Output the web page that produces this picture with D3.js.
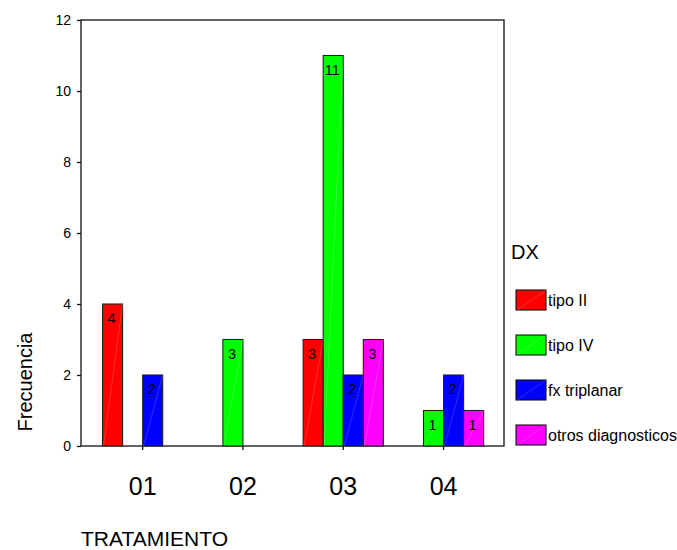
<!DOCTYPE html>
<html>
<head>
<meta charset="utf-8">
<script src="https://cdn.jsdelivr.net/npm/d3@7"></script>
<style>
  body { margin: 0; background: #fff; }
  text { font-family: "Liberation Sans", Arial, sans-serif; fill: #000; }
</style>
</head>
<body>
<script>
var categories = ["01", "02", "03", "04"];
var seriesNames = ["tipo II", "tipo IV", "fx triplanar", "otros diagnosticos"];
var tipoII = [4, 0, 3, 0];
var tipoIV = [0, 3, 11, 1];
var fxTriplanar = [2, 0, 2, 2];
var otrosDx = [0, 0, 3, 1];
var yTicks = [0, 2, 4, 6, 8, 10, 12];
var colors = ["#ff0000", "#00ff00", "#0000ff", "#ff00ff"];

var seriesValues = [tipoII, tipoIV, fxTriplanar, otrosDx];

var data = categories.map(function(c, i) {
  return { cat: c, values: seriesNames.map(function(s, j) { return { name: s, value: seriesValues[j][i] }; }) };
});

var width = 677, height = 550;
var plot = { left: 81, right: 504, top: 20, bottom: 446 };

var svg = d3.select("body").append("svg")
  .attr("width", width)
  .attr("height", height);

var x0 = d3.scaleBand().domain(categories).range([92.5, 493.7]).paddingInner(0.2).paddingOuter(0.1);
var x1 = d3.scaleBand().domain(seriesNames).range([0, x0.bandwidth()]);
var y = d3.scaleLinear().domain([0, 12]).range([plot.bottom, plot.top]);
var color = d3.scaleOrdinal().domain(seriesNames).range(colors);

// frame
svg.append("rect")
  .attr("x", plot.left).attr("y", plot.top)
  .attr("width", plot.right - plot.left).attr("height", plot.bottom - plot.top)
  .attr("fill", "none").attr("stroke", "#111").attr("stroke-width", 1.3);

// y axis
var yAxis = svg.append("g")
  .attr("transform", "translate(" + plot.left + ",0)")
  .call(d3.axisLeft(y).tickValues(yTicks).tickSize(4).tickPadding(6).tickFormat(d3.format("d")));
yAxis.select(".domain").remove();
yAxis.selectAll("line").attr("stroke", "#111").attr("stroke-width", 1.3);
yAxis.selectAll("text").style("font-size", "14px").style("font-family", "'Liberation Sans', Arial, sans-serif").attr("fill", "#000");

// x axis
var xAxis = svg.append("g")
  .attr("transform", "translate(0," + plot.bottom + ")")
  .call(d3.axisBottom(x0).tickSize(4).tickPadding(27));
xAxis.select(".domain").remove();
xAxis.selectAll("line").attr("stroke", "#111").attr("stroke-width", 1.3);
xAxis.selectAll("text").style("font-size", "25px").style("font-family", "'Liberation Sans', Arial, sans-serif").attr("fill", "#000");

// bars
var slice = svg.selectAll(".slice")
  .data(data)
  .enter().append("g")
  .attr("class", "slice")
  .attr("transform", function(d) { return "translate(" + x0(d.cat) + ",0)"; });

var bar = slice.selectAll(".bar")
  .data(function(d) { return d.values; })
  .enter().append("g")
  .attr("class", "bar");

bar.append("rect")
  .attr("x", function(d) { return x1(d.name); })
  .attr("y", function(d) { return y(d.value); })
  .attr("width", x1.bandwidth())
  .attr("height", function(d) { return y(0) - y(d.value); })
  .attr("fill", function(d) { return color(d.name); })
  .attr("stroke", "#222")
  .attr("stroke-width", 1.1);

bar.filter(function(d) { return d.value > 0; })
  .append("line")
  .attr("x1", function(d) { return x1(d.name) + 1; })
  .attr("y1", y(0))
  .attr("x2", function(d) { return x1(d.name) + x1.bandwidth(); })
  .attr("y2", function(d) { return y(d.value); })
  .attr("stroke", "rgba(255,255,255,0.3)")
  .attr("stroke-width", 0.6);

bar.filter(function(d) { return d.value > 0; })
  .append("text")
  .attr("x", function(d) { return x1(d.name) + x1.bandwidth() / 2 - 1; })
  .attr("y", function(d) { return y(d.value) + 19; })
  .attr("text-anchor", "middle")
  .style("font-size", "14.5px")
  .text(function(d) { return d.value; });

// axis titles
svg.append("text")
  .attr("transform", "translate(32,382) rotate(-90)")
  .attr("text-anchor", "middle")
  .style("font-size", "20px")
  .text("Frecuencia");

svg.append("text")
  .attr("x", 81).attr("y", 546)
  .style("font-size", "21px")
  .text("TRATAMIENTO");

// legend
svg.append("text")
  .attr("x", 511).attr("y", 259)
  .style("font-size", "20px")
  .text("DX");

var legend = svg.selectAll(".legend")
  .data(seriesNames)
  .enter().append("g")
  .attr("class", "legend")
  .attr("transform", function(d, i) { return "translate(516," + (290 + i * 45) + ")"; });

legend.append("rect")
  .attr("width", 30).attr("height", 20)
  .attr("fill", function(d) { return color(d); })
  .attr("stroke", "#111").attr("stroke-width", 1.1);

legend.append("line")
  .attr("x1", 1).attr("y1", 20).attr("x2", 30).attr("y2", 0)
  .attr("stroke", "rgba(255,255,255,0.3)").attr("stroke-width", 0.6);

legend.append("text")
  .attr("x", 32).attr("y", 10).attr("dy", "0.35em")
  .style("font-size", "16px")
  .text(function(d) { return d; });
</script>
</body>
</html>
